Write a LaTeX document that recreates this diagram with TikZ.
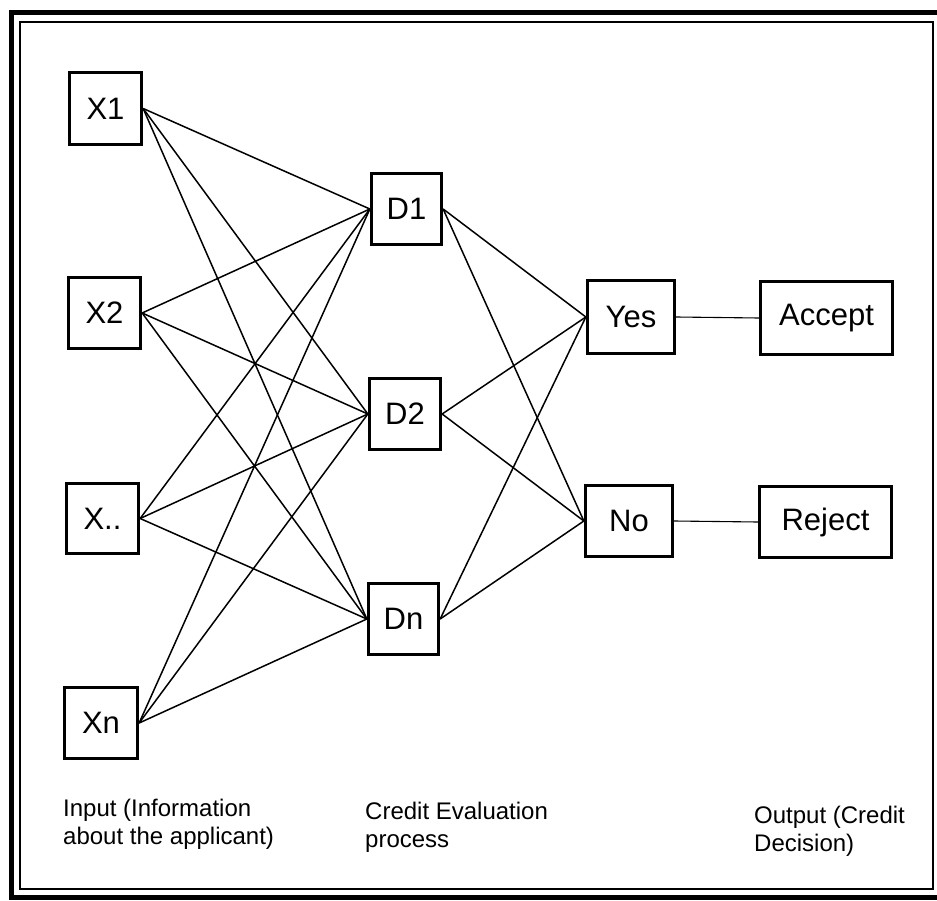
\documentclass[tikz,border=0pt]{standalone}
\usepackage{fontspec}
\setmainfont{Liberation Sans}
\begin{document}
\begin{tikzpicture}[x=1pt,y=-1pt,
  box/.style={draw, line width=2.8pt, inner sep=0pt, font=\fontsize{31}{31}\selectfont},
  link/.style={line width=1.5pt},
  thinlink/.style={line width=1.1pt},
  lbl/.style={anchor=base west, align=left, inner sep=0pt, font=\fontsize{24}{28}\selectfont}]
\useasboundingbox (0,0) rectangle (937,901);
\fill[white] (0,0) rectangle (937,901);
% frame
\draw[line width=5pt] (940,13) -- (11,13) -- (11,897) -- (940,897);
\draw[line width=1.8pt] (20,22) rectangle (933,889);
% input nodes
\node[box, minimum width=72.5pt, minimum height=72.5pt] (x1) at (105.5,108.5) {X1};
\node[box, minimum width=72.5pt, minimum height=71.5pt] (x2) at (104.5,313) {X2};
\node[box, minimum width=72.5pt, minimum height=70.5pt] (x3) at (102.5,518.5) {X..};
\node[box, minimum width=73.5pt, minimum height=71.5pt] (xn) at (101,723) {Xn};
% decision nodes
\node[box, minimum width=70.5pt, minimum height=71.5pt] (d1) at (406.5,209) {D1};
\node[box, minimum width=71.5pt, minimum height=71.5pt] (d2) at (405,414) {D2};
\node[box, minimum width=70.5pt, minimum height=71.5pt] (dn) at (403.5,619) {Dn};
% outcome nodes
\node[box, minimum width=87.5pt, minimum height=73.5pt] (yes) at (631,317) {Yes};
\node[box, minimum width=87.5pt, minimum height=71.5pt] (no) at (629,521) {No};
\node[box, minimum width=132.5pt, minimum height=72.5pt] (acc) at (826.5,318) {Accept};
\node[box, minimum width=132.5pt, minimum height=71.5pt] (rej) at (825.5,522) {Reject};
% connectors
\foreach \s in {x1,x2,x3,xn}{
  \foreach \t in {d1,d2,dn}{
    \draw[link] (\s.east) -- (\t.west);
  }
}
\foreach \s in {d1,d2,dn}{
  \foreach \t in {yes,no}{
    \draw[link] (\s.east) -- (\t.west);
  }
}
\draw[thinlink] (yes.east) -- (acc.west);
\draw[thinlink] (no.east) -- (rej.west);
% labels (anchor at baseline of last line)
\node[lbl] (lin) at (63,844) {Input (Information\\about the applicant)};
\node[lbl] (lcr) at (365,847) {Credit Evaluation\\process};
\node[lbl] (lout) at (754,851) {Output (Credit\\Decision)};
\end{tikzpicture}
\end{document}
